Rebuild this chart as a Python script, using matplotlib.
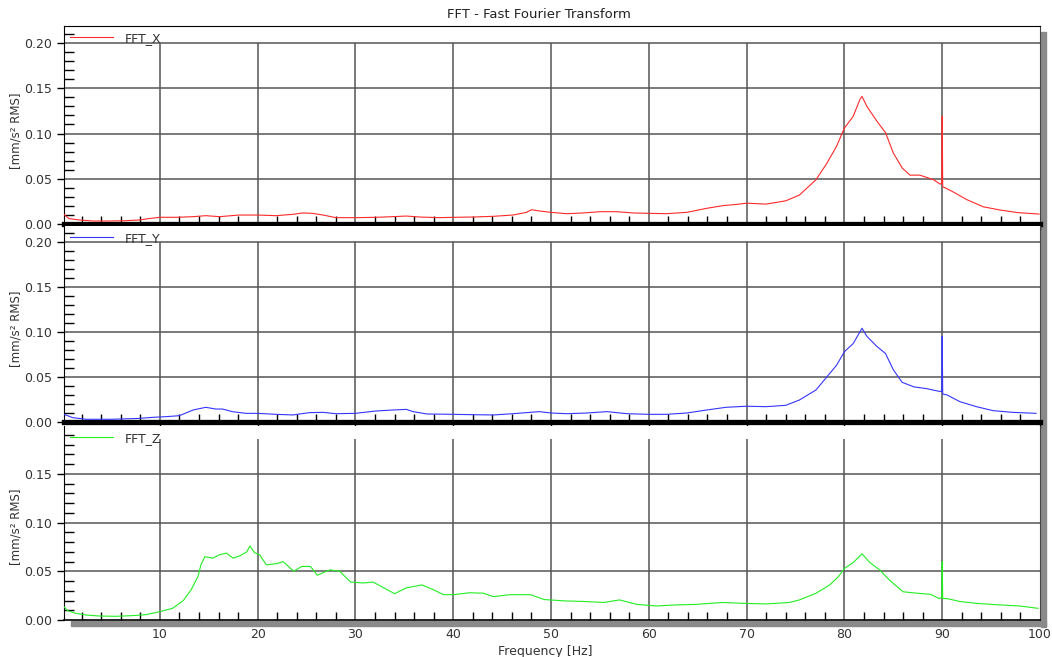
import numpy as np
import matplotlib.pyplot as plt
from matplotlib.patches import Rectangle
from matplotlib.ticker import MultipleLocator

# values (frequency in Hz, amplitude in mm/s² RMS)
freq_x = [0.2, 0.7, 1.8, 3.2, 4.9, 6.6, 7.9, 8.9, 10, 11.7, 13.4, 14.7, 16.1, 18.1, 20, 21.9,
          23.6, 24.6, 25.6, 26.7, 28, 30, 32.1, 33.8, 35.2, 36.6, 38.6, 40, 42, 44.1, 46.1, 47.5,
          48, 48.8, 50, 51.6, 53.3, 55, 56.7, 58.4, 60, 61.8, 63.9, 65.9, 67.6, 69, 70, 72, 74,
          75.4, 77.1, 78.2, 79.2, 80, 80.9, 81.6, 81.8, 82.3, 83.3, 84.2, 85, 85.9, 86.7, 87.7,
          89.1, 89.8, 89.95, 90, 90.05, 90.3, 91.2, 92.5, 94.2, 95.9, 97.7, 99.9]
amp_x = [0.0107, 0.006, 0.0044, 0.0033, 0.0033, 0.0037, 0.0044, 0.006, 0.0074, 0.0074, 0.0081,
         0.0092, 0.0081, 0.0099, 0.0099, 0.0092, 0.0107, 0.0122, 0.0118, 0.0099, 0.007, 0.007,
         0.0074, 0.0081, 0.0088, 0.0077, 0.007, 0.0074, 0.0077, 0.0085, 0.0099, 0.0129, 0.0158,
         0.0144, 0.0129, 0.0114, 0.0122, 0.0136, 0.0136, 0.0122, 0.0118, 0.0114, 0.0129, 0.0173,
         0.0203, 0.0217, 0.023, 0.022, 0.0256, 0.032, 0.049, 0.067, 0.086, 0.106, 0.119, 0.138,
         0.141, 0.130, 0.114, 0.101, 0.0785, 0.062, 0.054, 0.054, 0.049, 0.044, 0.045, 0.119,
         0.041, 0.040, 0.035, 0.027, 0.019, 0.0155, 0.0126, 0.011]

freq_y = [0.2, 1.1, 2.5, 5, 7.9, 9.3, 10.6, 12, 13.4, 14.7, 15.7, 16.4, 17.4, 18.8, 20, 21.9,
          23.6, 25.3, 26.7, 28, 30, 32.1, 33.8, 35.2, 35.9, 37.3, 40, 42, 44.1, 46.1, 48.8, 50,
          51.6, 53.7, 55.7, 57.8, 60, 61.8, 63.9, 65.9, 67.9, 70, 72, 74, 75.4, 77.1, 78.2, 79.2,
          80, 80.9, 81.8, 82.3, 83.3, 84.2, 85, 85.9, 87.1, 88.4, 89.7, 89.95, 90, 90.05, 90.5,
          91.8, 93.5, 95.2, 97.2, 99.6]
amp_y = [0.0085, 0.0048, 0.003, 0.003, 0.004, 0.0052, 0.0059, 0.007, 0.0133, 0.0163, 0.0144,
         0.0144, 0.0115, 0.0096, 0.0096, 0.0085, 0.0078, 0.0104, 0.0107, 0.0092, 0.0096, 0.0122,
         0.0133, 0.014, 0.0115, 0.0089, 0.0085, 0.0081, 0.0078, 0.0092, 0.0115, 0.01, 0.0092,
         0.01, 0.0115, 0.0092, 0.0085, 0.0085, 0.01, 0.0133, 0.0163, 0.0175, 0.017, 0.0185,
         0.0244, 0.0356, 0.050, 0.063, 0.078, 0.087, 0.104, 0.095, 0.084, 0.076, 0.058, 0.044,
         0.039, 0.037, 0.034, 0.034, 0.095, 0.031, 0.030, 0.0226, 0.017, 0.0126, 0.0107, 0.0096]

freq_z = [0.2, 0.55, 1.4, 2.5, 3.8, 5.5, 7.2, 8.6, 10, 11.3, 12.4, 13.2, 13.9, 14.2, 14.6, 15.4,
          16.1, 16.8, 17.5, 18.2, 18.9, 19.2, 19.7, 20.2, 20.9, 22, 22.6, 23.7, 24.5, 25.4, 26.1,
          27.4, 28.4, 29.5, 30.8, 31.8, 32.9, 34, 35.2, 36.8, 38, 39, 40, 41.7, 43.1, 44.1, 45.8,
          47.9, 49.3, 51.4, 53.4, 55.4, 57, 58.8, 60.8, 62.8, 64.8, 67.5, 70, 72, 74.4, 75.4,
          77.1, 78.5, 79.4, 80, 80.9, 81.8, 82.6, 83.6, 84.6, 86, 87.4, 88.8, 89.7, 89.95, 90,
          90.05, 90.5, 91.8, 93.6, 95.9, 97.9, 99.8]
amp_z = [0.0137, 0.0096, 0.0069, 0.0051, 0.0041, 0.0038, 0.0045, 0.0055, 0.0086, 0.012, 0.020,
         0.031, 0.0446, 0.0566, 0.065, 0.0635, 0.067, 0.0687, 0.0635, 0.066, 0.070, 0.076, 0.069,
         0.067, 0.0566, 0.058, 0.060, 0.050, 0.055, 0.055, 0.046, 0.0515, 0.050, 0.039, 0.038,
         0.039, 0.033, 0.027, 0.033, 0.036, 0.031, 0.026, 0.026, 0.028, 0.0275, 0.024, 0.026,
         0.026, 0.021, 0.0196, 0.019, 0.018, 0.0206, 0.016, 0.0144, 0.0155, 0.016, 0.018, 0.017,
         0.0165, 0.018, 0.0206, 0.0275, 0.036, 0.0446, 0.053, 0.059, 0.068, 0.059, 0.0515, 0.041,
         0.029, 0.0275, 0.0264, 0.022, 0.023, 0.060, 0.022, 0.022, 0.019, 0.017, 0.0155, 0.0144,
         0.012]

names = ['FFT_X', 'FFT_Y', 'FFT_Z']
colors = ['#ff2a2a', '#3535ff', '#22ee22']
series = [(freq_x, amp_x), (freq_y, amp_y), (freq_z, amp_z)]

W, H = 1052, 657
fig = plt.figure(figsize=(W / 100, H / 100), dpi=100)

# pixel rows of each panel: (top, bottom), top of y range, top of vertical grid
rows = [(26, 224), (226, 422), (426, 620)]
ytops = [0.2188, 0.2174, 0.1992]
vtops = [0.2, 0.2, 0.186]
xl, xr = 64, 1040
grid_c = '#555555'

for i, ((f, a), name, col) in enumerate(zip(series, names, colors)):
    top, bot = rows[i]
    ax = fig.add_axes([xl / W, 1 - bot / H, (xr - xl) / W, (bot - top) / H])
    ax.plot(f, a, color=col, lw=0.8, label=name, zorder=3)
    ax.set_xlim(0.2, 100)
    ax.set_ylim(0, ytops[i])

    for yv in [0.05, 0.10, 0.15, 0.20]:
        ax.axhline(yv, color=grid_c, lw=1.1, zorder=1)
    ax.vlines(np.arange(10, 100, 10), 0, vtops[i], color=grid_c, lw=1.1, zorder=1)

    yt = [0, 0.05, 0.10, 0.15, 0.20] if i < 2 else [0, 0.05, 0.10, 0.15]
    ax.set_yticks(yt)
    ax.set_yticklabels(['%.2f' % v for v in yt])
    ax.yaxis.set_minor_locator(MultipleLocator(0.01))
    ax.set_xticks(np.arange(10, 101, 10))
    ax.xaxis.set_minor_locator(MultipleLocator(2))
    ax.tick_params(axis='y', which='major', direction='out', length=5, width=1,
                   labelsize=9, labelcolor='#333333')
    ax.tick_params(axis='y', which='minor', direction='in', length=7, width=1)
    ax.tick_params(axis='x', which='minor', direction='in', length=6, width=1)
    if i < 2:
        ax.tick_params(axis='x', which='major', direction='out', length=4, width=1,
                       labelbottom=False)
        ax.spines['bottom'].set_linewidth(3.8)
    else:
        ax.tick_params(axis='x', which='major', direction='in', length=0,
                       labelsize=9, labelcolor='#333333', pad=6)
        ax.spines['bottom'].set_linewidth(1.2)
    if i > 0:
        ax.spines['top'].set_visible(False)
    ax.spines['right'].set_color('#444444')
    ax.set_facecolor('white')

    leg = ax.legend(loc='upper left', frameon=False, fontsize=9, handlelength=3.5,
                    handletextpad=0.9, borderaxespad=0.25, borderpad=0.2)
    for t in leg.get_texts():
        t.set_color('#333333')

    ymid = [131, 329, 527][i]
    fig.text(16 / W, 1 - ymid / H, '[mm/s² RMS]', rotation=90, ha='center', va='center',
             fontsize=8.5, color='#333333')

# drop shadow of the plot frame
fig.add_artist(Rectangle((1041 / W, 1 - 627 / H), 5 / W, (627 - 32) / H,
                         transform=fig.transFigure, color='#8a8a8a', zorder=0))
fig.add_artist(Rectangle((71 / W, 1 - 626 / H), (1046 - 71) / W, 5 / H,
                         transform=fig.transFigure, color='#8a8a8a', zorder=0))

fig.text(539 / W, 1 - 15 / H, 'FFT - Fast Fourier Transform', ha='center', va='center',
         fontsize=9.5, color='#222222')
fig.text(545 / W, 1 - 645 / H, 'Frequency [Hz]', ha='center', va='top', fontsize=9,
         color='#333333')

fig.savefig('out.png', dpi=100)
